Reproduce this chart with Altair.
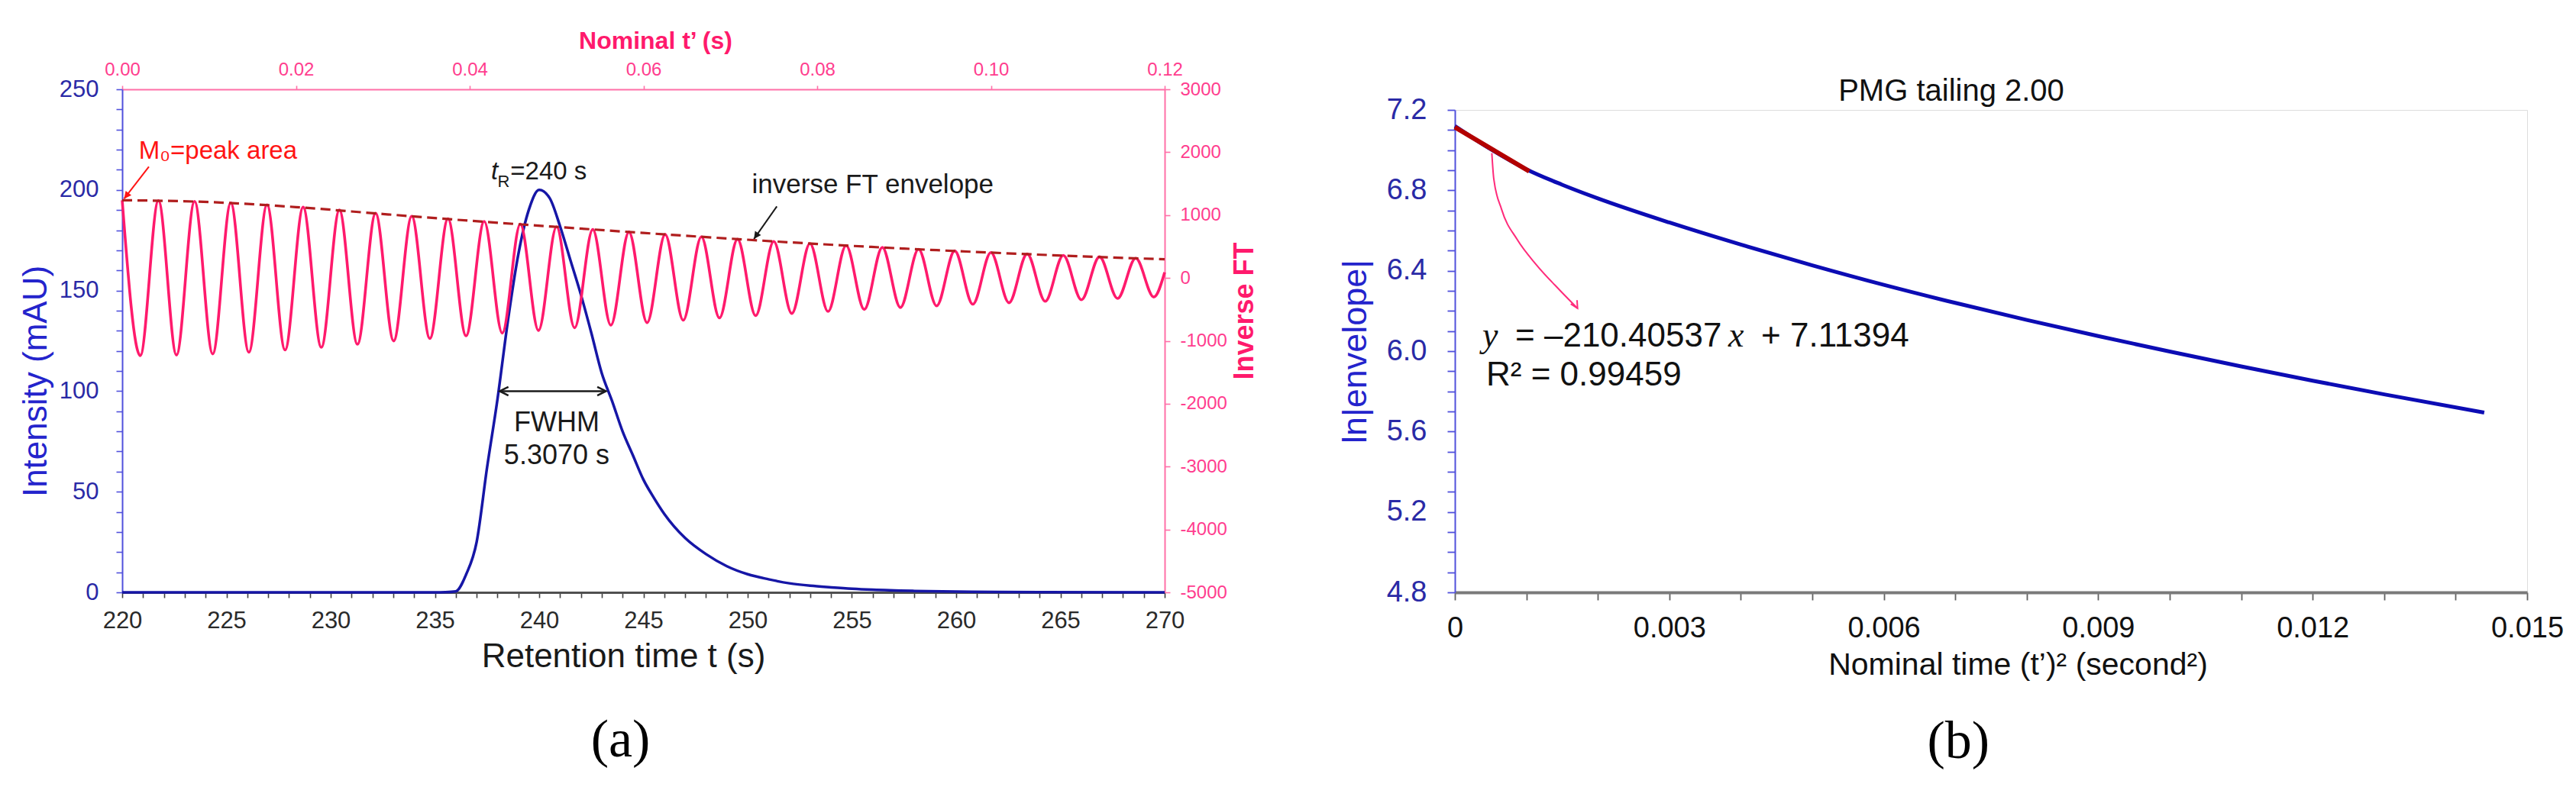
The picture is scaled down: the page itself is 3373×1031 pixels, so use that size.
import altair as alt
import pandas as pd

FONT = "Liberation Sans"
SERIF = "Liberation Serif"

# ---------------- Panel (a) data ----------------
ret_time = [220, 235, 235.5, 236, 236.5, 237, 237.5, 238, 238.5, 239, 239.5, 240,
            240.5, 241, 241.5, 242, 242.5, 243, 243.5, 244, 244.5, 245, 245.5, 246,
            247, 248, 249, 250, 251, 252, 253, 254, 255, 256, 258, 260, 262, 264, 270]
intensity = [0, 0, 0.1, 0.5, 9, 25, 62, 96, 135, 168, 190, 200,
             196, 182, 165, 148, 129, 109, 95, 80, 68, 56, 47, 39,
             27, 19, 13, 9, 6.5, 4.5, 3.3, 2.5, 1.8, 1.3, 0.7, 0.35, 0.15, 0.05, 0]

# inverse FT: successive extrema (peaks / troughs) read along nominal t'
nom_t = [0, 0.00208, 0.00417, 0.00625, 0.00833, 0.01042, 0.0125, 0.01458, 0.01667, 0.01875,
         0.02083, 0.02292, 0.025, 0.02708, 0.02917, 0.03125, 0.03333, 0.03542, 0.0375, 0.03958,
         0.04167, 0.04375, 0.04583, 0.04792, 0.05, 0.05208, 0.05417, 0.05625, 0.05833, 0.06042,
         0.0625, 0.06458, 0.06667, 0.06875, 0.07083, 0.07292, 0.075, 0.07708, 0.07917, 0.08125,
         0.08333, 0.08542, 0.0875, 0.08958, 0.09167, 0.09375, 0.09583, 0.09792, 0.1, 0.10208,
         0.10417, 0.10625, 0.10833, 0.11042, 0.1125, 0.11458, 0.11667, 0.11875, 0.12]
inv_ft = [1236, -1235, 1231, -1226, 1218, -1208, 1195, -1181, 1164, -1146,
          1126, -1104, 1081, -1055, 1029, -1002, 981, -962, 942, -921,
          899, -877, 856, -835, 815, -793, 771, -751, 732, -712,
          692, -673, 654, -635, 616, -599, 582, -565, 548, -533,
          518, -501, 486, -470, 457, -444, 431, -418, 405, -394,
          382, -371, 359, -348, 337, -326, 314, -303, 90]

env_t = [0, 0.01, 0.02, 0.03, 0.04, 0.05, 0.06, 0.07, 0.08, 0.09, 0.10, 0.11, 0.12]
env_v = [1236, 1207, 1127, 1017, 910, 812, 716, 625, 541, 467, 403, 346, 297]

a_x_ticks = list(range(220, 271))
a_y_ticks = list(range(0, 251, 10))
a_top_ticks = [0, 0.02, 0.04, 0.06, 0.08, 0.10, 0.12]
a_right_ticks = [-5000, -4000, -3000, -2000, -1000, 0, 1000, 2000, 3000]

# ---------------- Panel (b) data ----------------
tsq = [0, 0.0005, 0.001, 0.0015, 0.002, 0.003, 0.004, 0.005, 0.006, 0.007,
       0.008, 0.009, 0.010, 0.011, 0.012, 0.013, 0.0144]
ln_env = [7.12, 7.005, 6.905, 6.828, 6.76, 6.64, 6.53, 6.427, 6.33, 6.24,
          6.155, 6.075, 5.998, 5.924, 5.853, 5.785, 5.694]
fit_x = [0, 0.00104]
fit_y = [7.114, 6.895]
curve_x = [0.000517, 0.000544, 0.000653, 0.000872, 0.001144, 0.001471, 0.001716]
curve_y = [6.985, 6.858, 6.706, 6.555, 6.428, 6.302, 6.213]

b_x_ticks = [0, 0.001, 0.002, 0.003, 0.004, 0.005, 0.006, 0.007, 0.008, 0.009,
             0.010, 0.011, 0.012, 0.013, 0.014, 0.015]
b_y_ticks = [4.8, 4.9, 5.0, 5.1, 5.2, 5.3, 5.4, 5.5, 5.6, 5.7, 5.8, 5.9, 6.0,
             6.1, 6.2, 6.3, 6.4, 6.5, 6.6, 6.7, 6.8, 6.9, 7.0, 7.1, 7.2]

# ---------------- colours ----------------
BLUE_LINE = "#1616a6"
BLUE_AX = "#5050dc"
BLUE_LAB = "#2a2aa6"
BLUE_TIT = "#2424cc"
PINK = "#ff1a6c"
PINK_AX = "#ff70a8"
PINK_LAB = "#ff3d8e"
ENV = "#b01e1e"
CHEVRON = "M-0.55,1.1L0,0L0.55,1.1"

W_A, H_A = 1365, 659
W_B, H_B = 1404, 632

# ================= Panel (a) =================
sx_a = alt.Scale(domain=[220, 270], nice=False, zero=False)
sy_a = alt.Scale(domain=[0, 250], nice=False)
sx_top = alt.Scale(domain=[0, 0.12], nice=False, zero=False)
sy_right = alt.Scale(domain=[-5000, 3000], nice=False)

ax_bottom = alt.Axis(
    title="Retention time t (s)", values=a_x_ticks, format="d",
    labelExpr="datum.value % 5 == 0 ? datum.label : ''",
    ticks=True, tickSize=7, labelFontSize=31, labelColor="#2a2a2a", labelPadding=15,
    labelFlush=False, labelOverlap=False, tickColor="#404040", tickWidth=1.6,
    domainColor="#505050", domainWidth=3,
    titleFontSize=44, titleFontWeight="normal", titleColor="#1a1a1a", titlePadding=10,
    titleX=656, grid=False)
ax_left = alt.Axis(
    title="Intensity (mAU)", values=a_y_ticks, format="d",
    labelExpr="datum.value % 50 == 0 ? datum.label : ''",
    ticks=True, tickSize=8, labelFontSize=31, labelColor=BLUE_LAB, labelPadding=23,
    labelOverlap=False, tickColor=BLUE_AX, tickWidth=1.6, domainColor=BLUE_AX, domainWidth=2,
    titleFontSize=44, titleFontWeight="normal", titleColor=BLUE_TIT, titlePadding=8,
    titleY=382, grid=False)
ax_top = alt.Axis(
    orient="top", title="Nominal t’ (s)", values=a_top_ticks, format=".2f",
    ticks=True, tickSize=5, labelFontSize=24, labelColor=PINK_LAB, labelPadding=9,
    labelFlush=False, labelOverlap=False, tickColor=PINK_AX, tickWidth=1.6,
    domainColor=PINK_AX, domainWidth=2,
    titleFontSize=32, titleFontWeight="bold", titleColor=PINK, titlePadding=9,
    titleX=698, grid=False)
ax_right = alt.Axis(
    orient="right", title="Inverse FT", values=a_right_ticks,
    labelExpr="(datum.value < 0 ? '-' : '') + format(abs(datum.value), 'd')",
    ticks=True, tickSize=7, labelFontSize=24, labelColor=PINK_LAB, labelPadding=13,
    labelOverlap=False, tickColor=PINK_AX, tickWidth=1.6, domainColor=PINK_AX, domainWidth=2,
    titleFontSize=36, titleFontWeight="bold", titleColor=PINK, titlePadding=6,
    titleAngle=270, titleBaseline="top", titleY=290, grid=False)

XA = alt.X("t:Q", scale=sx_a, axis=ax_bottom)
YA = alt.Y("I:Q", scale=sy_a, axis=ax_left)
XT = alt.X("tp:Q", scale=sx_top, axis=ax_top)
YR = alt.Y("v:Q", scale=sy_right, axis=ax_right)

df_peak = pd.DataFrame({"t": ret_time, "I": intensity})
peak = alt.Chart(df_peak).mark_line(color=BLUE_LINE, strokeWidth=3.5, interpolate="monotone").encode(x=XA, y=YA)

# annotations (in retention-time / intensity units)
df_txt_black = pd.DataFrame({"t": [240.84, 240.84, 256.0], "I": [79.9, 63.7, 198.3],
                             "label": ["FWHM", "5.3070 s", "inverse FT envelope"],
                             "fs": [36, 36, 35]})
txt_black = alt.Chart(df_txt_black).mark_text(font=FONT, color="#1a1a1a",
                                              align="center", baseline="alphabetic").encode(
    x=XA, y=YA, text="label:N", size=alt.Size("fs:Q", scale=None, legend=None))
df_m0 = pd.DataFrame({"t": [220.8], "I": [215.3], "label": ["M₀=peak area"]})
txt_m0 = alt.Chart(df_m0).mark_text(font=FONT, fontSize=33, color="#ff1414",
                                    align="left", baseline="alphabetic").encode(x=XA, y=YA, text="label:N")
df_tr1 = pd.DataFrame({"t": [237.69], "I": [205.2], "label": ["t"]})
txt_tr1 = alt.Chart(df_tr1).mark_text(font=FONT, fontSize=33, fontStyle="italic", color="#1a1a1a",
                                      align="left", baseline="alphabetic").encode(x=XA, y=YA, text="label:N")
df_tr2 = pd.DataFrame({"t": [238.0], "I": [201.5], "label": ["R"]})
txt_tr2 = alt.Chart(df_tr2).mark_text(font=FONT, fontSize=22, color="#1a1a1a",
                                      align="left", baseline="alphabetic").encode(x=XA, y=YA, text="label:N")
df_tr3 = pd.DataFrame({"t": [238.62], "I": [205.2], "label": ["=240 s"]})
txt_tr3 = alt.Chart(df_tr3).mark_text(font=FONT, fontSize=33, color="#1a1a1a",
                                      align="left", baseline="alphabetic").encode(x=XA, y=YA, text="label:N")

df_fwhm = pd.DataFrame({"t": [238.11, 243.2], "I": [100, 100]})
fwhm_line = alt.Chart(df_fwhm).mark_line(color="#1a1a1a", strokeWidth=2.5).encode(x=XA, y=YA)
df_fwhm_head = pd.DataFrame({"t": [238.11, 243.2], "I": [100, 100], "ang": [270, 90]})
fwhm_head = alt.Chart(df_fwhm_head).mark_point(shape=CHEVRON, filled=False, size=420, strokeWidth=2.5,
                                               color="#1a1a1a", opacity=1).encode(
    x=XA, y=YA, angle=alt.Angle("ang:Q", scale=None))

df_m0_arrow = pd.DataFrame({"t": [221.28, 220.09], "I": [211.5, 195.6]})
m0_arrow = alt.Chart(df_m0_arrow).mark_line(color="#ff1414", strokeWidth=2).encode(x=XA, y=YA)
df_m0_head = pd.DataFrame({"t": [220.09], "I": [195.6], "ang": [218]})
m0_head = alt.Chart(df_m0_head).mark_point(shape=CHEVRON, filled=True, size=300, strokeWidth=1.5,
                                           color="#ff1414", opacity=1).encode(
    x=XA, y=YA, angle=alt.Angle("ang:Q", scale=None))

df_env_arrow = pd.DataFrame({"t": [251.4, 250.3], "I": [191.8, 175.6]})
env_arrow = alt.Chart(df_env_arrow).mark_line(color="#1a1a1a", strokeWidth=2).encode(x=XA, y=YA)
df_env_head = pd.DataFrame({"t": [250.3], "I": [175.6], "ang": [214.5]})
env_head = alt.Chart(df_env_head).mark_point(shape=CHEVRON, filled=True, size=300, strokeWidth=1.5,
                                             color="#1a1a1a", opacity=1).encode(
    x=XA, y=YA, angle=alt.Angle("ang:Q", scale=None))

left_group = alt.layer(peak, fwhm_line, fwhm_head, m0_arrow, m0_head, env_arrow, env_head,
                       txt_black, txt_m0, txt_tr1, txt_tr2, txt_tr3)

df_ift = pd.DataFrame({"tp": nom_t, "v": inv_ft})
ift = alt.Chart(df_ift).mark_line(color=PINK, strokeWidth=3.6, interpolate="monotone").encode(x=XT, y=YR)
df_env = pd.DataFrame({"tp": env_t, "v": env_v})
env = alt.Chart(df_env).mark_line(color=ENV, strokeWidth=3.2, strokeDash=[13, 7],
                                  interpolate="monotone").encode(x=XT, y=YR)
right_group = alt.layer(ift, env)

panel_a = alt.layer(left_group, right_group).resolve_scale(
    x="independent", y="independent").properties(
    width=W_A, height=H_A,
    title=alt.TitleParams("(a)", orient="bottom", font=SERIF, fontSize=70, fontWeight="normal",
                          color="#000000", anchor="middle", dx=-30, offset=54))

# ================= Panel (b) =================
sx_b = alt.Scale(domain=[0, 0.015], nice=False, zero=False)
sy_b = alt.Scale(domain=[4.8, 7.2], nice=False, zero=False)
ax_b_x = alt.Axis(
    title="Nominal time (t’)² (second²)", values=b_x_ticks,
    labelExpr="round(datum.value*1000) % 3 == 0 ? (datum.value == 0 ? '0' : format(datum.value, '.3f')) : ''",
    ticks=True, tickSize=10, labelFontSize=38, labelColor="#111111", labelPadding=18,
    labelFlush=False, labelOverlap=False, tickColor="#606060", tickWidth=1.8,
    domainColor="#7a7a7a", domainWidth=4,
    titleFontSize=41, titleFontWeight="normal", titleColor="#111111", titlePadding=9,
    titleX=737, grid=False)
ax_b_y = alt.Axis(
    title="ln|envelope|", values=b_y_ticks,
    labelExpr="round(datum.value*10) % 4 == 0 ? format(datum.value, '.1f') : ''",
    ticks=True, tickSize=10, labelFontSize=38, labelColor=BLUE_LAB, labelPadding=27,
    labelOverlap=False, tickColor=BLUE_AX, tickWidth=1.8, domainColor=BLUE_AX, domainWidth=2,
    titleFontSize=45, titleFontWeight="normal", titleColor=BLUE_TIT, titlePadding=18, grid=False)

XB = alt.X("x:Q", scale=sx_b, axis=ax_b_x)
YB = alt.Y("y:Q", scale=sy_b, axis=ax_b_y)

df_b = pd.DataFrame({"x": tsq, "y": ln_env})
b_line = alt.Chart(df_b).mark_line(color="#0c0cb4", strokeWidth=5, interpolate="monotone").encode(x=XB, y=YB)
df_fit = pd.DataFrame({"x": fit_x, "y": fit_y})
b_fit = alt.Chart(df_fit).mark_line(color="#b30000", strokeWidth=6).encode(x=XB, y=YB)
df_curve = pd.DataFrame({"x": curve_x, "y": curve_y})
b_curve = alt.Chart(df_curve).mark_line(color="#ff2a7a", strokeWidth=2, interpolate="monotone").encode(x=XB, y=YB)
df_curve_head = pd.DataFrame({"x": [curve_x[-1]], "y": [curve_y[-1]], "ang": [150]})
b_head = alt.Chart(df_curve_head).mark_point(shape=CHEVRON, filled=False, size=300, strokeWidth=2,
                                             color="#ff2a7a", opacity=1).encode(
    x=XB, y=YB, angle=alt.Angle("ang:Q", scale=None))

eq_x = 0.000385
eq_y = 6.023
r2_y = 5.83
df_eq1 = pd.DataFrame({"x": [eq_x], "y": [eq_y], "label": ["y"]})
df_eq2 = pd.DataFrame({"x": [eq_x], "y": [eq_y], "label": ["= –210.40537"]})
df_eq3 = pd.DataFrame({"x": [eq_x], "y": [eq_y], "label": ["x"]})
df_eq4 = pd.DataFrame({"x": [eq_x], "y": [eq_y], "label": ["+ 7.11394"]})
df_r2 = pd.DataFrame({"x": [eq_x], "y": [r2_y], "label": ["R² = 0.99459"]})
eq1 = alt.Chart(df_eq1).mark_text(font=SERIF, fontStyle="italic", fontSize=46, color="#111111",
                                  align="left", baseline="alphabetic").encode(x=XB, y=YB, text="label:N")
eq2 = alt.Chart(df_eq2).mark_text(font=FONT, fontSize=44, color="#111111", dx=43,
                                  align="left", baseline="alphabetic").encode(x=XB, y=YB, text="label:N")
eq3 = alt.Chart(df_eq3).mark_text(font=SERIF, fontStyle="italic", fontSize=46, color="#111111", dx=322,
                                  align="left", baseline="alphabetic").encode(x=XB, y=YB, text="label:N")
eq4 = alt.Chart(df_eq4).mark_text(font=FONT, fontSize=44, color="#111111", dx=365,
                                  align="left", baseline="alphabetic").encode(x=XB, y=YB, text="label:N")
r2 = alt.Chart(df_r2).mark_text(font=FONT, fontSize=44, color="#111111", dx=5,
                                align="left", baseline="alphabetic").encode(x=XB, y=YB, text="label:N")

panel_b_core = alt.layer(b_line, b_fit, b_curve, b_head, eq1, eq2, eq3, eq4, r2).properties(
    width=W_B, height=H_B)

# title strip above panel (b)
b_title = ["PMG tailing 2.00"]
title_strip = alt.Chart(pd.DataFrame({"label": b_title})).mark_text(
    font=FONT, fontSize=40, color="#111111", align="center", baseline="alphabetic", dx=-52, dy=1
).encode(text="label:N").properties(width=W_B, height=27,
                                    view=alt.ViewBackground(strokeOpacity=0))

panel_b = alt.vconcat(title_strip, panel_b_core, spacing=0, bounds="flush",
                      title=alt.TitleParams("(b)", orient="bottom", font=SERIF, fontSize=70,
                                            fontWeight="normal", color="#000000", anchor="middle",
                                            dx=10, offset=46))

chart = alt.hconcat(panel_a, panel_b, spacing=103).properties(
    padding={"left": 16, "top": 28, "right": 5, "bottom": 5}
).configure_view(stroke="#cfc8b8", strokeWidth=2).configure_axis(
    labelFont=FONT, titleFont=FONT).configure_title(font=FONT).configure(background="white")

chart.save("out.html", embed_options={"renderer": "svg", "actions": False})
